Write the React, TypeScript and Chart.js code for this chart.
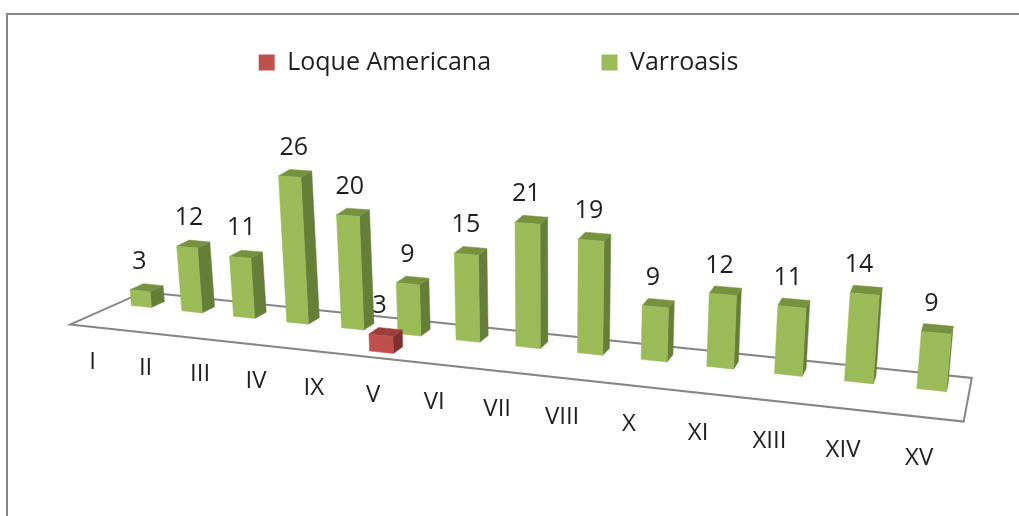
import React, { useEffect, useRef } from "react";
import { Chart, registerables } from "chart.js";

Chart.register(...registerables);

const categories = ["I", "II", "III", "IV", "IX", "V", "VI", "VII", "VIII", "X", "XI", "XIII", "XIV", "XV"];
const loqueValues = [null, null, null, null, null, 3, null, null, null, null, null, null, null, null];
const varroaValues = [3, 12, 11, 26, 20, 9, 15, 21, 19, 9, 12, 11, 14, 9];
const seriesNames = ["Loque Americana", "Varroasis"];

const FONT = "'Open Sans'";
const TEXT = "#1f1f1f";
const FRAME = "#868686";
const palettes = [
  { front: "#C0504D", side: "#7E3230", top: "#9C3F3C" },
  { front: "#9BBB59", side: "#667F38", top: "#77923F" },
];
// depth of each series' front plane, and the sideways nudge of its row
const seriesDepth = [-2.6, 0];
const seriesNudge = [-3.5, 0];

type Q = [number, number][];
function homography(q: Q) {
  const [[x0, y0], [x1, y1], [x2, y2], [x3, y3]] = q;
  const dx1 = x1 - x2, dx2 = x3 - x2, sx = x0 - x1 + x2 - x3;
  const dy1 = y1 - y2, dy2 = y3 - y2, sy = y0 - y1 + y2 - y3;
  const den = dx1 * dy2 - dx2 * dy1;
  const g = (sx * dy2 - dx2 * sy) / den;
  const h = (dx1 * sy - sx * dy1) / den;
  const a = x1 - x0 + g * x1, b = x3 - x0 + h * x3;
  const d = y1 - y0 + g * y1, e = y3 - y0 + h * y3;
  return (u: number, v: number): [number, number] => {
    const w = g * u + h * v + 1;
    return [(a * u + b * v + x0) / w, (d * u + e * v + y0) / w];
  };
}
const frontPlane = homography([[116.6, 303.9], [968.8, 394], [987, 196], [101.6, 141.9]]);
const backPlane = homography([[130.1, 297.9], [970.3, 386], [988.5, 188], [115.1, 135.9]]);

function project(chart: any, px: number, py: number, depth: number): [number, number] {
  const { left, right, top, bottom } = chart.chartArea;
  const u = (px - left) / (right - left);
  const v = (bottom - py) / (bottom - top);
  const a = frontPlane(u, v);
  const b = backPlane(u, v);
  return [a[0] + depth * (b[0] - a[0]), a[1] + depth * (b[1] - a[1])];
}

function fillPoly(ctx: CanvasRenderingContext2D, pts: [number, number][], color: string) {
  ctx.beginPath();
  pts.forEach((p, i) => (i ? ctx.lineTo(p[0], p[1]) : ctx.moveTo(p[0], p[1])));
  ctx.closePath();
  ctx.fillStyle = color;
  ctx.fill();
  ctx.strokeStyle = color;
  ctx.lineWidth = 0.5;
  ctx.stroke();
}

const scene3d = {
  id: "scene3d",
  afterLayout(chart: any) {
    const lg = chart.legend;
    const pad = lg.options.labels.padding;
    lg.top = 50 - pad;
    lg.bottom = 110;
    lg.left -= 11;
    lg.right -= 11;
  },
  beforeDatasetsDraw(chart: any) {
    const { ctx, chartArea } = chart;
    const { left, right, bottom } = chartArea;
    ctx.save();
    // outer frame
    ctx.strokeStyle = FRAME;
    ctx.lineWidth = 2;
    ctx.beginPath();
    ctx.moveTo(7, 516);
    ctx.lineTo(7, 14);
    ctx.lineTo(1019, 14);
    ctx.stroke();
    // floor
    const c = [
      project(chart, left, bottom, -3.45),
      project(chart, right, bottom, -3.45),
      project(chart, right, bottom, 2),
      project(chart, left, bottom, 2),
    ];
    ctx.beginPath();
    c.forEach((p, i) => (i ? ctx.lineTo(p[0], p[1]) : ctx.moveTo(p[0], p[1])));
    ctx.closePath();
    ctx.strokeStyle = FRAME;
    ctx.lineWidth = 2;
    ctx.stroke();
    // category labels, along the floor's front edge
    const xs = chart.scales.x;
    const ys = chart.scales.y;
    ctx.fillStyle = TEXT;
    ctx.font = `24px ${FONT}`;
    ctx.textAlign = "center";
    ctx.textBaseline = "middle";
    categories.forEach((label, i) => {
      const p = project(chart, xs.getPixelForValue(i), ys.getPixelForValue(-6), -3.8);
      ctx.fillText(label, p[0] - 1.5, p[1] + 1);
    });
    ctx.restore();
  },
  beforeDatasetDraw(chart: any, args: any) {
    const { ctx } = chart;
    const idx = args.index;
    const pal = palettes[idx];
    const d0 = seriesDepth[idx];
    const d1 = d0 + 1;
    const meta = args.meta;
    ctx.save();
    ctx.translate(seriesNudge[idx], 0);
    meta.data.forEach((el: any, i: number) => {
      const raw = chart.data.datasets[idx].data[i];
      if (raw === null || raw === undefined) return;
      const l = el.x - el.width / 2;
      const r = el.x + el.width / 2;
      const y = el.y;
      const b = el.base;
      fillPoly(ctx, [project(chart, r, b, d0), project(chart, r, b, d1), project(chart, r, y, d1), project(chart, r, y, d0)], pal.side);
      fillPoly(ctx, [project(chart, l, y, d0), project(chart, r, y, d0), project(chart, r, y, d1), project(chart, l, y, d1)], pal.top);
      fillPoly(ctx, [project(chart, l, b, d0), project(chart, r, b, d0), project(chart, r, y, d0), project(chart, l, y, d0)], pal.front);
      const t = project(chart, el.x, y, d0);
      const f = project(chart, el.x, b, d0);
      ctx.fillStyle = TEXT;
      ctx.font = `25px ${FONT}`;
      ctx.textAlign = "center";
      ctx.textBaseline = "middle";
      ctx.fillText(String(raw), 0.3 * t[0] + 0.7 * f[0] - 1.5, t[1] - 29);
    });
    ctx.restore();
    return false;
  },
};

export default function App() {
  const ref = useRef<HTMLCanvasElement>(null);
  useEffect(() => {
    const chart = new Chart(ref.current as HTMLCanvasElement, {
      type: "bar",
      data: {
        labels: categories,
        datasets: [
          { label: seriesNames[0], data: loqueValues, backgroundColor: palettes[0].front, grouped: false, barPercentage: 0.4, categoryPercentage: 1 },
          { label: seriesNames[1], data: varroaValues, backgroundColor: palettes[1].front, grouped: false, barPercentage: 0.4, categoryPercentage: 1 },
        ],
      },
      options: {
        animation: false,
        responsive: false,
        devicePixelRatio: 1,
        layout: { padding: 0 },
        scales: {
          x: { display: false },
          y: { display: false, min: 0, max: 30 },
        },
        plugins: {
          tooltip: { enabled: false },
          legend: {
            position: "top",
            labels: {
              boxWidth: 16,
              boxHeight: 16,
              padding: 110.5,
              color: TEXT,
              font: { family: "Open Sans", size: 25 },
            },
          },
        },
      },
      plugins: [scene3d],
    } as any);
    return () => chart.destroy();
  }, []);
  return (
    <div style={{ position: "absolute", left: 0, top: 0, width: 1019, height: 516, overflow: "hidden", background: "#fff" }}>
      <canvas ref={ref} width={1019} height={516} style={{ display: "block" }} />
    </div>
  );
}
